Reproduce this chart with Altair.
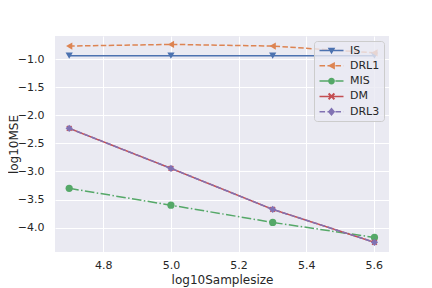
import altair as alt
import pandas as pd

# ---- data ----
samplesize = [4.699, 5.0, 5.301, 5.602]
series_names = ["IS", "DRL1", "MIS", "DM", "DRL3"]
IS = [-0.94, -0.94, -0.94, -0.94]
DRL1 = [-0.77, -0.74, -0.77, -0.89]
MIS = [-3.30, -3.60, -3.906, -4.173]
DM = [-2.233, -2.945, -3.674, -4.26]
DRL3 = [-2.233, -2.945, -3.674, -4.26]

x_ticks = [4.8, 5.0, 5.2, 5.4, 5.6]
y_ticks = [-4.0, -3.5, -3.0, -2.5, -2.0, -1.5, -1.0]

colors = ["#4C72B0", "#DD8452", "#55A868", "#C44E52", "#8172B3"]
dashes = [[1, 0], [5.5, 2.4], [9.6, 2.4, 1.5, 2.4], [1, 0], [5.5, 2.4]]

X_PATH = ("M-0.8,-0.5L-0.5,-0.8L0,-0.3L0.5,-0.8L0.8,-0.5L0.3,0L0.8,0.5"
          "L0.5,0.8L0,0.3L-0.5,0.8L-0.8,0.5L-0.3,0Z")
plot_shapes = ["triangle-down", "triangle-left", "circle", X_PATH, "diamond"]


def seg(a, b, t=0.19):
    return f"M{a},{-t}H{b}V{t}H{a}Z"


solid = seg(-3, 3)
dashed = seg(-3, -1.61) + seg(-1.01, 0.38) + seg(0.98, 2.37) + seg(2.97, 3)
dashdot = seg(-3, -0.6) + seg(0, 0.375) + seg(0.975, 3)
m_tri_down = "M-0.95,-0.68H0.95L0,0.95Z"
m_tri_left = "M0.85,-0.95V0.95L-0.95,0Z"
m_circle = "M0.85,0A0.85,0.85,0,1,1,-0.85,0A0.85,0.85,0,1,1,0.85,0Z"
m_diamond = "M0,-1.05L0.9,0L0,1.05L-0.9,0Z"
m_x = ("M-0.9,-0.55L-0.55,-0.9L0,-0.35L0.55,-0.9L0.9,-0.55L0.35,0L0.9,0.55"
       "L0.55,0.9L0,0.35L-0.55,0.9L-0.9,0.55L-0.35,0Z")
legend_shapes = [
    solid + m_tri_down,
    dashed + m_tri_left,
    dashdot + m_circle,
    solid + m_x,
    dashed + m_diamond,
]

rows = []
for name, vals in zip(series_names, [IS, DRL1, MIS, DM, DRL3]):
    for xv, yv in zip(samplesize, vals):
        rows.append({"x": xv, "y": yv, "series": name})
df = pd.DataFrame(rows)

FONT = "DejaVu Sans"
TXT = "#262626"

x_enc = alt.X("x:Q", scale=alt.Scale(domain=[4.657, 5.645], nice=False, zero=False),
              axis=alt.Axis(values=x_ticks, format=".1f", title="log10Samplesize",
                            titleY=31.3, titleBaseline="alphabetic"))
y_enc = alt.Y("y:Q", scale=alt.Scale(domain=[-4.432, -0.591], nice=False, zero=False),
              axis=alt.Axis(values=y_ticks, format=".1f", title="log10MSE",
                            titleX=-37.7, titleY=108, titleBaseline="alphabetic",
                            titleAlign="center", titleAngle=270))
color_scale = alt.Scale(domain=series_names, range=colors)

base = alt.Chart(df)

lines = base.mark_line(strokeWidth=1.5).encode(
    x=x_enc, y=y_enc,
    color=alt.Color("series:N", scale=color_scale, legend=None),
    strokeDash=alt.StrokeDash("series:N", scale=alt.Scale(domain=series_names, range=dashes), legend=None),
)

points = base.mark_point(filled=True, opacity=1, size=52).encode(
    x=x_enc, y=y_enc,
    color=alt.Color("series:N", scale=color_scale, legend=None),
    shape=alt.Shape("series:N", scale=alt.Scale(domain=series_names, range=plot_shapes), legend=None),
)

leg = dict(orient="none", legendX=259, legendY=5, title=None,
           fillColor="rgba(234,234,242,0.8)", strokeColor="#CCCCCC", cornerRadius=3,
           padding=4, symbolSize=64, symbolStrokeWidth=0, symbolOffset=8,
           labelOffset=13, rowPadding=3.3, labelFont=FONT, labelFontSize=11,
           labelColor=TXT)

legend_layer = base.mark_point(filled=True, opacity=1, size=64).encode(
    x=x_enc, y=y_enc,
    color=alt.Color("series:N", scale=alt.Scale(domain=series_names, range=colors),
                    legend=alt.Legend(**leg)),
    shape=alt.Shape("series:N", scale=alt.Scale(domain=series_names, range=legend_shapes),
                    legend=alt.Legend(**leg)),
).transform_filter("false")

chart = alt.layer(lines, points, legend_layer).resolve_scale(
    color="independent", shape="independent"
).properties(
    width=334, height=216,
    autosize=alt.AutoSizeParams(type="none"),
    padding={"left": 47, "top": 28, "right": 35, "bottom": 36},
    background="white",
).configure_view(
    fill="#EAEAF2", stroke=None
).configure_axis(
    grid=True, gridColor="white", gridWidth=1, domain=False, ticks=False,
    labelFont=FONT, labelFontSize=11, labelColor=TXT,
    titleFont=FONT, titleFontSize=12, titleFontWeight="normal", titleColor=TXT,
).configure_axisX(
    labelPadding=7
).configure_axisY(
    labelPadding=11
)

chart.save("out.html", embed_options={"renderer": "svg", "actions": False})
